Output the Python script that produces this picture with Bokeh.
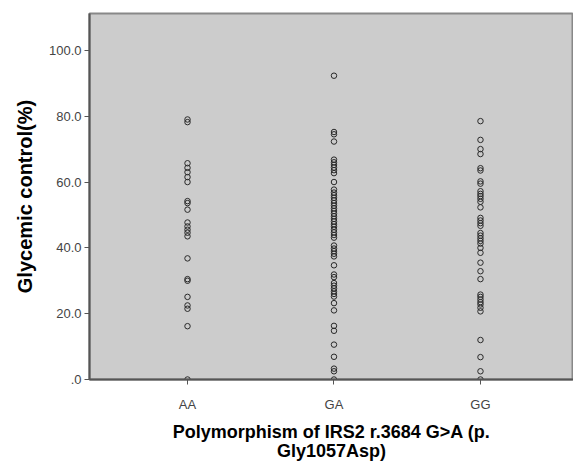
from bokeh.plotting import figure
from bokeh.models import Range1d, FixedTicker
from bokeh.embed import file_html
from bokeh.resources import INLINE

categories = ["AA", "GA", "GG"]

aa_values = [79.0, 78.2, 65.7, 64.3, 63.0, 61.5, 60.0, 54.2, 53.6, 51.6,
             47.7, 46.5, 45.5, 44.6, 43.5, 36.8, 30.5, 30.0, 25.1, 22.5,
             21.5, 16.2, 0.0]
ga_values = [92.3, 75.2, 74.5, 72.3, 66.8, 66.0, 65.2, 64.4, 63.6, 62.7,
             60.0, 57.7, 56.8, 56.0, 55.2, 54.4, 53.6, 52.8, 52.0, 51.2,
             50.4, 49.6, 48.8, 48.0, 47.2, 46.4, 45.5, 44.7, 43.9, 43.1,
             40.7, 39.8, 39.0, 38.2, 37.4, 34.7, 31.9, 31.1, 29.3, 28.5,
             27.7, 26.8, 26.0, 25.2, 23.2, 21.0, 16.3, 14.8, 10.6, 6.9,
             3.3, 2.5, 0.0]
gg_values = [78.5, 72.8, 70.0, 68.5, 64.2, 63.5, 60.2, 59.5, 57.2, 56.4,
             55.7, 54.9, 54.0, 52.3, 49.1, 48.3, 47.5, 46.7, 44.5, 43.7,
             42.9, 42.1, 41.3, 40.0, 38.5, 35.5, 32.9, 30.5, 25.8, 25.1,
             24.3, 23.5, 22.8, 21.8, 20.7, 12.0, 6.8, 2.5, 0.0]

y_ticks = [0, 20, 40, 60, 80, 100]
y_tick_labels = [".0", "20.0", "40.0", "60.0", "80.0", "100.0"]

groups = [aa_values, ga_values, gg_values]
xs, ys = [], []
for i, vals in enumerate(groups):
    xs += [i + 1] * len(vals)
    ys += vals

p = figure(width=573, height=463, output_backend="svg", toolbar_location=None,
           x_range=Range1d(0.331, 3.635), y_range=Range1d(0, 111.2),
           min_border_left=89, min_border_right=0, min_border_top=13,
           min_border_bottom=83)
p.background_fill_color = "#cccccc"
p.border_fill_color = "white"
p.outline_line_color = "#888888"
p.outline_line_width = 2
p.grid.visible = False

p.scatter(xs, ys, marker="circle", size=5.5, fill_color=None,
          line_color="#2a2a2a", line_width=1)

font = "Liberation Sans"
p.xaxis.ticker = FixedTicker(ticks=[1, 2, 3])
p.xaxis.major_label_overrides = {i + 1: c for i, c in enumerate(categories)}
p.yaxis.ticker = FixedTicker(ticks=y_ticks)
p.yaxis.major_label_overrides = dict(zip(y_ticks, y_tick_labels))

for ax in (p.xaxis[0], p.yaxis[0]):
    ax.axis_line_color = "#555555"
    ax.axis_line_width = 2
    ax.major_tick_line_color = "#555555"
    ax.major_tick_in = 0
    ax.major_tick_out = 5
    ax.minor_tick_line_color = None
    ax.major_label_text_font = font
    ax.major_label_text_font_size = "13px"
    ax.major_label_text_color = "#444444"
    ax.axis_label_text_font = font
    ax.axis_label_text_font_style = "bold"
    ax.axis_label_text_color = "black"

p.xaxis.axis_label_text_font_size = "18px"
p.yaxis.axis_label_text_font_size = "20px"
p.xaxis.axis_label = "Polymorphism of IRS2 r.3684 G>A (p.\nGly1057Asp)"
p.xaxis.axis_label_text_line_height = 0.95
p.yaxis.axis_label = "Glycemic control(%)"
p.xaxis.major_label_standoff = 12
p.xaxis.axis_label_standoff = 7
p.yaxis.major_label_standoff = 3
p.yaxis.axis_label_standoff = 10

open("out.html", "w").write(file_html(p, INLINE))
